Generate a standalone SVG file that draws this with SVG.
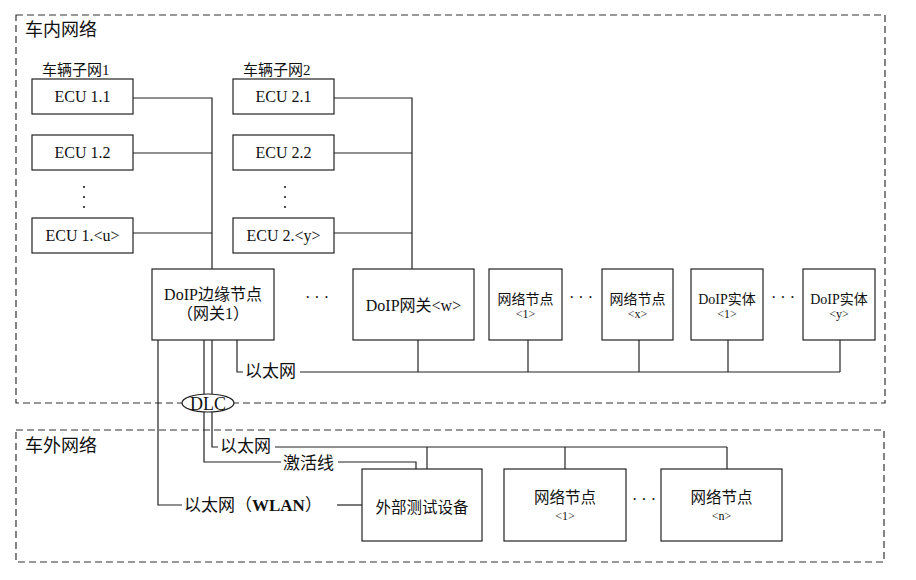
<svg xmlns="http://www.w3.org/2000/svg" width="916" height="580" viewBox="0 0 916 580">
<style>
text{font-family:"Liberation Serif","Noto Sans CJK SC",serif;fill:#111}
.region{fill:none;stroke:#333;stroke-width:1.2;stroke-dasharray:7 4}
.box{fill:#fff;stroke:#222;stroke-width:1.2}
.ln{fill:none;stroke:#222;stroke-width:1.2}
.dot{fill:#222}
.t16{font-size:16px;text-anchor:middle}
.t15{font-size:15.5px;text-anchor:middle}
.t14{font-size:14px;text-anchor:middle}
.t12{font-size:12px;text-anchor:middle}
.lbl{font-size:17px}
.dots{font-size:16px;text-anchor:middle}
</style>
<rect width="916" height="580" fill="#fff"/>

<g id="region-in">
<rect class="region" x="16" y="15" width="869" height="388"/>
<text x="25" y="36" style="font-size:18px">车内网络</text>
<text x="42" y="75" style="font-size:15px">车辆子网1</text>
<text x="243" y="75" style="font-size:15px">车辆子网2</text>
</g>
<g id="region-out">
<rect class="region" x="16" y="430" width="868" height="132"/>
<text x="25" y="452" style="font-size:18px">车外网络</text>
</g>

<g id="connectors">
<polyline class="ln" points="133,98 212,98 212,269"/>
<line class="ln" x1="133" y1="153" x2="212" y2="153"/>
<line class="ln" x1="133" y1="233" x2="212" y2="233"/>
<polyline class="ln" points="334,98 412,98 412,269"/>
<line class="ln" x1="334" y1="153" x2="412" y2="153"/>
<line class="ln" x1="334" y1="233" x2="412" y2="233"/>
<polyline class="ln" points="237,340 237,372 243,372"/>
<line class="ln" x1="300" y1="372" x2="840" y2="372"/>
<line class="ln" x1="418" y1="340" x2="418" y2="372"/>
<line class="ln" x1="528" y1="340" x2="528" y2="372"/>
<line class="ln" x1="639" y1="340" x2="639" y2="372"/>
<line class="ln" x1="728" y1="340" x2="728" y2="372"/>
<line class="ln" x1="840" y1="340" x2="840" y2="372"/>
<polyline class="ln" points="212,340 212,447 218,447"/>
<line class="ln" x1="275" y1="447" x2="727" y2="447"/>
<line class="ln" x1="427" y1="447" x2="427" y2="469"/>
<line class="ln" x1="565" y1="447" x2="565" y2="469"/>
<line class="ln" x1="727" y1="447" x2="727" y2="469"/>
<polyline class="ln" points="204,340 204,462 281,462"/>
<polyline class="ln" points="338,462 416,462 416,469"/>
<polyline class="ln" points="158,340 158,505 182,505"/>
<line class="ln" x1="337" y1="505" x2="362" y2="505"/>
<text class="lbl" x="245" y="377">以太网</text>
<text class="lbl" x="220" y="452">以太网</text>
<text class="lbl" x="283" y="469">激活线</text>
<text class="lbl" x="184" y="511">以太网（<tspan font-weight="bold">WLAN</tspan>）</text>
</g>

<g id="dlc">
<ellipse cx="208" cy="403" rx="26" ry="9" fill="#fff" stroke="#222" stroke-width="1.2"/>
<text x="208" y="409.5" style="font-size:18px;text-anchor:middle">DLC</text>
</g>

<g id="ecu-1-1"><rect class="box" x="32" y="79" width="101" height="35"/><text class="t16" x="82.5" y="102">ECU 1.1</text></g>
<g id="ecu-1-2"><rect class="box" x="32" y="135" width="101" height="35"/><text class="t16" x="82.5" y="158">ECU 1.2</text></g>
<g id="ecu-1-dots"><circle class="dot" cx="84" cy="187" r="1.1"/><circle class="dot" cx="84" cy="197" r="1.1"/><circle class="dot" cx="84" cy="207" r="1.1"/></g>
<g id="ecu-1-u"><rect class="box" x="32" y="218" width="101" height="35"/><text class="t16" x="82.5" y="241">ECU 1.&lt;u&gt;</text></g>

<g id="ecu-2-1"><rect class="box" x="233" y="79" width="101" height="35"/><text class="t16" x="283.5" y="102">ECU 2.1</text></g>
<g id="ecu-2-2"><rect class="box" x="233" y="135" width="101" height="35"/><text class="t16" x="283.5" y="158">ECU 2.2</text></g>
<g id="ecu-2-dots"><circle class="dot" cx="285" cy="187" r="1.1"/><circle class="dot" cx="285" cy="197" r="1.1"/><circle class="dot" cx="285" cy="207" r="1.1"/></g>
<g id="ecu-2-y"><rect class="box" x="233" y="218" width="101" height="35"/><text class="t16" x="283.5" y="241">ECU 2.&lt;y&gt;</text></g>

<g id="doip-edge"><rect class="box" x="152" y="269" width="122" height="71"/><text class="t16" x="213" y="300">DoIP边缘节点</text><text class="t16" x="213" y="319">（网关1）</text></g>
<g id="dots-a"><text class="dots" x="317" y="303">· · ·</text></g>
<g id="doip-gw"><rect class="box" x="353" y="269" width="121" height="71"/><text class="t16" x="413.5" y="311">DoIP网关&lt;w&gt;</text></g>
<g id="node-1"><rect class="box" x="489" y="269" width="73" height="71"/><text class="t14" x="525.5" y="304">网络节点</text><text class="t12" x="525.5" y="318">&lt;1&gt;</text></g>
<g id="dots-b"><text class="dots" x="581" y="303">· · ·</text></g>
<g id="node-x"><rect class="box" x="602" y="269" width="71" height="71"/><text class="t14" x="637.5" y="304">网络节点</text><text class="t12" x="637.5" y="318">&lt;x&gt;</text></g>
<g id="entity-1"><rect class="box" x="691" y="269" width="72" height="71"/><text class="t14" x="727" y="304">DoIP实体</text><text class="t12" x="727" y="318">&lt;1&gt;</text></g>
<g id="dots-c"><text class="dots" x="783" y="303">· · ·</text></g>
<g id="entity-y"><rect class="box" x="803" y="269" width="72" height="71"/><text class="t14" x="839" y="304">DoIP实体</text><text class="t12" x="839" y="318">&lt;y&gt;</text></g>

<g id="tester"><rect class="box" x="362" y="469" width="120" height="72"/><text class="t15" x="422" y="513">外部测试设备</text></g>
<g id="ext-node-1"><rect class="box" x="504" y="469" width="122" height="72"/><text class="t15" x="565" y="503">网络节点</text><text class="t12" x="565" y="520">&lt;1&gt;</text></g>
<g id="dots-d"><text class="dots" x="644" y="505">· · ·</text></g>
<g id="ext-node-n"><rect class="box" x="661" y="469" width="121" height="72"/><text class="t15" x="721.5" y="503">网络节点</text><text class="t12" x="721.5" y="520">&lt;n&gt;</text></g>
</svg>
